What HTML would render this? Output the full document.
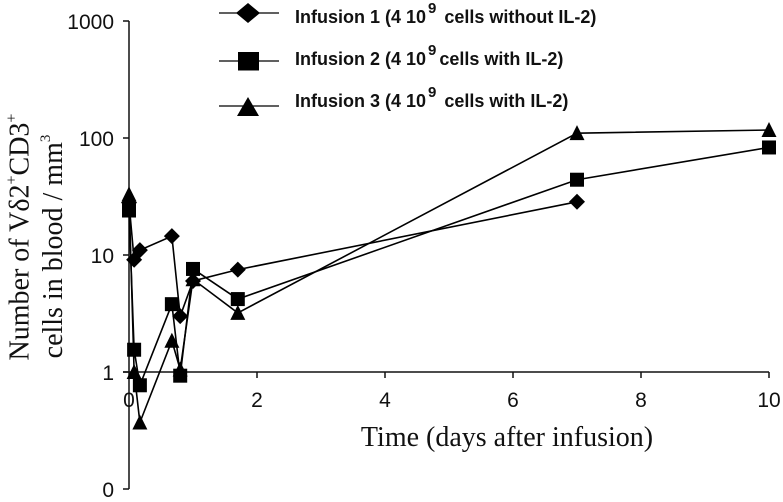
<!DOCTYPE html>
<html>
<head>
<meta charset="utf-8">
<style>
html,body{margin:0;padding:0;background:#fff;width:783px;height:502px;overflow:hidden}
svg{display:block}
.tick{font:21px "Liberation Sans",sans-serif;fill:#111}
.title{font:28px "Liberation Serif",serif;fill:#111}
.leg{font:bold 18px "Liberation Sans",sans-serif;fill:#111}
</style>
</head>
<body>
<svg id="chart" width="783" height="502" viewBox="0 0 783 502">
  <g id="axes"></g>
  <g id="series"></g>
  <text class="title" x="507" y="446" text-anchor="middle">Time (days after infusion)</text>
  <text class="title" transform="translate(28.5,237) rotate(-90)" text-anchor="middle">Number of Vδ2<tspan dy="-12" font-size="16">+</tspan><tspan dy="12">CD3</tspan><tspan dy="-12" font-size="16">+</tspan></text>
  <text class="title" transform="translate(62,246.5) rotate(-90)" text-anchor="middle">cells in blood / mm<tspan dy="-12" font-size="15">3</tspan></text>
  <g>
    <g id="legend-marks"></g>
    <text class="leg" x="295" y="23">Infusion 1 (4 10<tspan dy="-10" dx="2" font-size="15">9</tspan><tspan dy="10" dx="8">cells without IL-2)</tspan></text>
    <text class="leg" x="295" y="65">Infusion 2 (4 10<tspan dy="-10" dx="2" font-size="15">9</tspan><tspan dy="10" dx="3">cells with IL-2)</tspan></text>
    <text class="leg" x="295" y="107">Infusion 3 (4 10<tspan dy="-10" dx="2" font-size="15">9</tspan><tspan dy="10" dx="8">cells with IL-2)</tspan></text>
  </g>
</svg>
<script>
const days1 = [0, 0.08, 0.17, 0.67, 0.8, 1, 1.7, 7];
const values1 = [28, 9.1, 11, 14.5, 3, 6, 7.5, 28.5];
const days2 = [0, 0.08, 0.17, 0.67, 0.8, 1, 1.7, 7, 10];
const values2 = [24, 1.55, 0.77, 3.8, 0.93, 7.6, 4.2, 44, 83];
const days3 = [0, 0.08, 0.17, 0.67, 0.8, 1, 1.7, 7, 10];
const values3 = [33, 1, 0.37, 1.85, 1.05, 6.2, 3.2, 110, 117];
const xTicks = [2, 4, 6, 8, 10];
const yTicks = [0.1, 1, 10, 100, 1000];
const yTickLabels = ['0', '1', '10', '100', '1000'];

const NS = 'http://www.w3.org/2000/svg';
const xScale = d => 129 + d * 64;
const yScale = v => 372 - 117 * Math.log10(v);

function make(tag, attrs, parent) {
  const el = document.createElementNS(NS, tag);
  for (const k in attrs) el.setAttribute(k, attrs[k]);
  parent.appendChild(el);
  return el;
}
function drawMarker(kind, x, y, parent) {
  let el;
  if (kind === 'diamond') {
    el = make('polygon', {points: `${x},${y-8} ${x+8},${y} ${x},${y+8} ${x-8},${y}`, fill: '#000'}, parent);
  } else if (kind === 'square') {
    el = make('rect', {x: x-7, y: y-7, width: 14, height: 14, fill: '#000'}, parent);
  } else {
    el = make('polygon', {points: `${x},${y-8} ${x+7.5},${y+7} ${x-7.5},${y+7}`, fill: '#000'}, parent);
  }
  return el;
}

const axes = document.getElementById('axes');
const yAxis = make('line', {x1: 129, y1: yScale(1000), x2: 129, y2: yScale(0.1), stroke: '#111', 'stroke-width': 1.5}, axes);


const xAxis = make('line', {x1: 123, y1: yScale(1), x2: xScale(10), y2: yScale(1), stroke: '#111', 'stroke-width': 1.5}, axes);



yTicks.forEach((v, i) => {
  const t = make('line', {x1: 123, y1: yScale(v), x2: 129, y2: yScale(v), stroke: '#111', 'stroke-width': 1.5}, axes);
  
  
  const l = make('text', {x: 114, y: yScale(v) + 8, 'text-anchor': 'end', class: 'tick'}, axes);
  l.textContent = yTickLabels[i];
  
  
});
const zeroLabel = make('text', {x: xScale(0), y: 407, 'text-anchor': 'middle', class: 'tick'}, axes);
zeroLabel.textContent = '0';


xTicks.forEach(d => {
  const t = make('line', {x1: xScale(d), y1: yScale(1), x2: xScale(d), y2: yScale(1) + 6, stroke: '#111', 'stroke-width': 1.5}, axes);
  
  
  const l = make('text', {x: xScale(d), y: 407, 'text-anchor': 'middle', class: 'tick'}, axes);
  l.textContent = String(d);
  
  
});

const seriesRoot = document.getElementById('series');
function drawSeries(days, values, kind, name) {
  const g = make('g', {}, seriesRoot);
  
  
  const pts = days.map((d, i) => `${xScale(d)},${yScale(values[i])}`).join(' ');
  const line = make('polyline', {points: pts, fill: 'none', stroke: '#000', 'stroke-width': 1.6}, g);
  
  
  days.forEach((d, i) => {
    const m = drawMarker(kind, xScale(d), yScale(values[i]), g);
    
    
  });
}
drawSeries(days1, values1, 'diamond', 'series-infusion-1');
drawSeries(days2, values2, 'square', 'series-infusion-2');
drawSeries(days3, values3, 'triangle', 'series-infusion-3');

const legendMarks = document.getElementById('legend-marks');
const legendKinds = ['diamond', 'square', 'triangle'];
const legendRows = [13, 61, 106];
legendKinds.forEach((kind, i) => {
  const y = legendRows[i];
  const l = make('line', {x1: 219, y1: y, x2: 279, y2: y, stroke: '#000', 'stroke-width': 1.3}, legendMarks);
  
  
  const m = make('g', {transform: `translate(249,${y})`}, legendMarks);
  
  
  if (kind === 'square') {
    make('rect', {x: -11, y: -9, width: 21, height: 18.5, fill: '#000'}, m);
  } else if (kind === 'diamond') {
    make('polygon', {points: '-1,-10 11,0 -1,10 -13,0', fill: '#000'}, m);
  } else {
    make('polygon', {points: '-1,-9 10,10 -12,10', fill: '#000'}, m);
  }
});
</script>
</body>
</html>
